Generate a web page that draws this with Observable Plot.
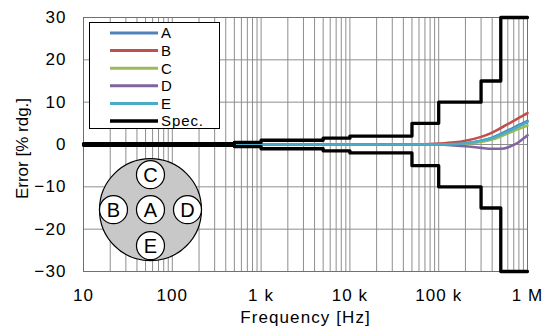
<!DOCTYPE html>
<html><head><meta charset="utf-8">
<script src="https://cdn.jsdelivr.net/npm/d3@7"></script>
<script src="https://cdn.jsdelivr.net/npm/@observablehq/plot@0.6"></script>
<style>
html,body{margin:0;padding:0;background:#fff;}
#wrap{position:relative;width:542px;height:336px;}
#wrap svg{display:block;}
#legend{position:absolute;left:0;top:0;}
</style></head>
<body><div id="wrap"></div>
<script>
// ---- data ----
const freq = [10, 100, 1000, 10000, 50000, 100000, 150000, 200000, 300000, 400000, 500000, 600000, 700000, 800000, 900000, 1000000];
const seriesA = [0, 0, 0, 0, 0, 0, 0.1, 0.3, 0.9, 1.6, 2.5, 3.3, 4.0, 4.6, 5.1, 5.6];
const seriesB = [0, 0, 0, 0, 0, 0.2, 0.5, 0.9, 1.8, 2.8, 3.9, 4.8, 5.6, 6.3, 6.9, 7.4];
const seriesC = [0, 0, 0, 0, 0, 0, 0, 0.2, 0.6, 1.2, 1.9, 2.6, 3.2, 3.7, 4.1, 4.5];
const seriesD = [0, 0, 0, 0, 0, 0, -0.2, -0.4, -0.8, -1.0, -1.0, -0.7, -0.1, 0.6, 1.4, 2.2];
const seriesE = [0, 0, 0, 0, 0, 0, 0.1, 0.3, 0.9, 1.5, 2.3, 3.0, 3.7, 4.3, 4.8, 5.3];
const seriesNames = ["A", "B", "C", "D", "E"];
const seriesColors = ["#4F81BD", "#C0504D", "#9BBB59", "#8064A2", "#4BACC6"];

const specFreq = [10, 500, 1000, 5000, 10000, 50000, 100000, 300000, 500000, 1000000];
const specLimit = [0.2, 0.5, 1, 1.5, 2, 5, 10, 15, 30, 30];

const xTickValues = [10, 100, 1000, 10000, 100000, 1000000];
const xTickLabels = ["10", "100", "1 k", "10 k", "100 k", "1 M"];
const yTickValues = [-30, -20, -10, 0, 10, 20, 30];
const probeLabels = ["A", "B", "C", "D", "E"];

// ---- derived tables ----
const allSeries = [seriesA, seriesB, seriesC, seriesD, seriesE];
const curves = allSeries.flatMap((s, i) => s.map((v, j) => ({f: freq[j], v, name: seriesNames[i]})));
const specUpper = specFreq.map((f, i) => ({f, v: specLimit[i]}));
const specLower = specFreq.map((f, i) => ({f, v: -specLimit[i]}));
const minorTicks = [];
for (let d = 10; d < 1e6; d *= 10) for (let k = 1; k < 10; k++) minorTicks.push(d * k);
minorTicks.push(1e6);

// layout of inset (pixel offsets around an anchor point)
const insetCenter = {f: 56.8, v: -15.4};
const probeOffsets = [[0, 0], [-37, 0], [0, -35], [37, 0], [0, 36]];

const FONT = "Liberation Sans, Arial, Helvetica, sans-serif";

const marks = [
  Plot.ruleX(minorTicks, {stroke: "#8e8e8e", strokeWidth: 1}),
  Plot.ruleY(yTickValues, {stroke: "#8e8e8e", strokeWidth: 1}),
  Plot.frame({stroke: "#707070"}),
  Plot.axisX({ticks: xTickValues, tickFormat: d => xTickLabels[xTickValues.indexOf(d)], tickSize: 0, tickPadding: 17, label: null, fontSize: 17}),
  Plot.axisY({ticks: yTickValues, tickSize: 0, tickPadding: 17, label: null, fontSize: 17}),
  ...seriesNames.map((n, i) => Plot.line(curves.filter(d => d.name === n), {x: "f", y: "v", stroke: seriesColors[i], strokeWidth: 2.6, curve: "monotone-x"})),
  Plot.line(specUpper, {x: "f", y: "v", stroke: "black", strokeWidth: 3.3, curve: "step-after"}),
  Plot.line(specLower, {x: "f", y: "v", stroke: "black", strokeWidth: 3.3, curve: "step-after"}),
  Plot.dot([insetCenter], {x: "f", y: "v", r: 51, fill: "#c8c8c8", stroke: "black", strokeWidth: 1.2}),
  ...probeLabels.map((p, i) => Plot.dot([insetCenter], {x: "f", y: "v", r: 14, fill: "white", stroke: "black", strokeWidth: 1.2, dx: probeOffsets[i][0], dy: probeOffsets[i][1]})),
  ...probeLabels.map((p, i) => Plot.text([insetCenter], {x: "f", y: "v", text: () => p, fontSize: 20, fill: "black", dx: probeOffsets[i][0] + 0.5, dy: probeOffsets[i][1] + 1})),
  Plot.text(["Error [% rdg.]"], {frameAnchor: "left", textAnchor: "middle", rotate: -90, dx: -61, dy: 4, fontSize: 17, text: d => d, style: {letterSpacing: "0px"}}),
  Plot.text(["Frequency [Hz]"], {frameAnchor: "bottom", dy: 51, fontSize: 17, text: d => d})
];

const chart = Plot.plot({
  width: 542, height: 336,
  marginLeft: 83, marginRight: 15, marginTop: 17, marginBottom: 65,
  x: {type: "log", domain: [10, 1e6]},
  y: {domain: [-30, 30]},
  style: {fontFamily: FONT, fontSize: "17px", background: "white", color: "black", letterSpacing: "1.1px"},
  marks
});
const wrap = document.getElementById("wrap");
wrap.appendChild(chart);
// vertical label is not horizontally stretched in the reference
d3.select(chart).selectAll("text").filter(function() { return this.textContent === "Error [% rdg.]"; }).attr("letter-spacing", "0px").style("letter-spacing", "0px");

// ---- legend overlay ----
const legendItems = seriesNames.map((n, i) => ({name: n, color: seriesColors[i], w: 3})).concat([{name: "Spec.", color: "black", w: 3.6}]);
const lg = d3.select(wrap).append("svg").attr("id", "legend").attr("width", 542).attr("height", 336);
lg.append("rect").attr("x", 89.5).attr("y", 22.5).attr("width", 130).attr("height", 106).attr("fill", "white").attr("stroke", "black").attr("stroke-width", 1);
legendItems.forEach((it, i) => {
  const y = 33 + i * 17.6;
  lg.append("line").attr("x1", 110).attr("x2", 158).attr("y1", y).attr("y2", y).attr("stroke", it.color).attr("stroke-width", it.w);
  lg.append("text").attr("x", 161).attr("y", y).attr("dy", "0.36em").attr("font-family", FONT).attr("font-size", 15).attr("letter-spacing", "0.9px").text(it.name);
});
</script></body></html>
